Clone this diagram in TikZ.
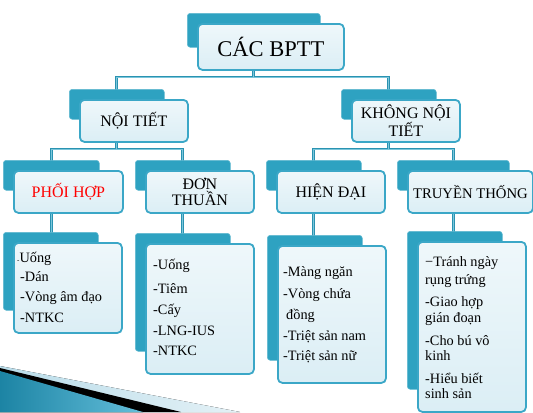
\documentclass[tikz,border=0pt]{standalone}
\usepackage{fontspec}
\setmainfont{Liberation Serif}
\newfontfamily\viserif{Liberation Serif}
\definecolor{tealback}{HTML}{2EA2C1}
\definecolor{tealedge}{HTML}{3BA7C7}
\definecolor{tealconn}{HTML}{2A93B1}
\definecolor{conninner}{HTML}{7CC6DB}
\definecolor{fillb}{HTML}{DBEEF5}
\definecolor{wedgeL}{RGB}{185,220,233}
\definecolor{wedgeR}{RGB}{228,241,246}
\definecolor{blueL}{RGB}{28,132,164}
\definecolor{blueR}{RGB}{100,190,218}
\pgfdeclarelayer{bg}
\pgfsetlayers{bg,main}
\newcommand\mkbox[7]{%
  \pgfmathsetmacro\myBW{#4-#2}%
  \pgfmathsetmacro\myBH{#5-#3}%
  \pgfmathsetmacro\myKW{#4-#2-13}%
  \pgfmathsetmacro\myKH{#5-#3-12}%
  \node[backbox,minimum width=\myKW bp,minimum height=\myKH bp] (#1b) at (#2-10,#3-10) {};
  \node[frontbox,minimum width=\myBW bp,minimum height=\myBH bp,#7] (#1) at (#2,#3) {#6};
}
\begin{document}
\begin{tikzpicture}[x=1bp,y=-1bp,
  backbox/.style={draw=tealback!75!white,fill=tealback,rounded corners=3bp,line width=0.6bp,inner sep=0pt,anchor=north west},
  frontbox/.style={draw=tealedge,line width=1.8bp,rounded corners=4.5bp,top color=fillb!45!white,bottom color=fillb,inner sep=0pt,anchor=north west,align=center},
  connl/.style={draw=tealconn,line width=1.1bp,double=conninner,double distance=0.7bp},
  lvone/.style={font=\viserif\fontsize{22.5bp}{24bp}\selectfont},
  lvtwo/.style={font=\viserif\fontsize{16bp}{16.5bp}\selectfont},
  item/.style={anchor=base west,inner sep=0pt,font=\viserif\fontsize{14.3bp}{16bp}\selectfont}]
\useasboundingbox (0,0) rectangle (533,412);
% decoration bottom left
\begin{pgfonlayer}{bg}
\fill[left color=wedgeL, right color=wedgeR] (0,366) -- (240,412) -- (0,412) -- cycle;
\fill[black] (0,368) -- (181,412) -- (0,412) -- cycle;
\fill[left color=blueL, right color=blueR] (0,371) -- (143,412) -- (0,412) -- cycle;
\end{pgfonlayer}
% boxes
\mkbox{top}{197}{23}{343}{69}{CÁC BPTT}{lvone}
\mkbox{noi}{79}{99}{187}{141}{NỘI TIẾT}{lvtwo}
\mkbox{khong}{351}{99}{459}{141}{KHÔNG NỘI\\TIẾT}{lvtwo}
\mkbox{phoi}{13}{170}{122}{212}{PHỐI HỢP}{lvtwo,text=red}
\mkbox{don}{145}{170}{253}{212}{ĐƠN\\THUẦN}{lvtwo}
\mkbox{hien}{276}{170}{384}{212}{HIỆN ĐẠI}{lvtwo}
\mkbox{truyen}{407}{170}{532}{212}{TRUYỀN THỐNG}{font=\viserif\fontsize{14.7bp}{16bp}\selectfont}
\mkbox{bone}{13}{242}{121}{332}{}{}
\mkbox{btwo}{145}{243}{253}{373}{}{}
\mkbox{bthree}{277}{245}{385}{382}{}{}
\mkbox{bfour}{417}{241}{525}{411}{}{}
% connectors
\coordinate (mA) at (0,77);
\coordinate (mB) at (0,149);
\begin{pgfonlayer}{bg}
\draw[connl] (topb.center) -- (topb.center |- mA) -| (noib.center);
\draw[connl] (topb.center |- mA) -| (khongb.center);
\draw[connl] (noib.center) -- (noib.center |- mB) -| (phoib.center);
\draw[connl] (noib.center |- mB) -| (donb.center);
\draw[connl] (khongb.center) -- (khongb.center |- mB) -| (hienb.center);
\draw[connl] (khongb.center |- mB) -| (truyenb.center);
\draw[connl] (phoib.center) -- (phoib.center |- boneb.center);
\draw[connl] (donb.center) -- (donb.center |- btwob.center);
\draw[connl] (hienb.center) -- (hienb.center |- bthreeb.center);
\draw[connl] (truyenb.center) -- (truyenb.center |- bfourb.center);
\end{pgfonlayer}
% items box 1
\node[item] (a1) at (17,262) {{\fontsize{7bp}{8bp}\selectfont -}Uống};
\node[item] (a2) at (20,281) {-Dán};
\node[item] (a3) at (20,301) {-Vòng âm đạo};
\node[item] (a4) at (20,322) {-NTKC};
% box 2
\node[item] (c1) at (153,269) {-Uống};
\node[item] (c2) at (153,293) {-Tiêm};
\node[item] (c3) at (153,314) {-Cấy};
\node[item] (c4) at (153,335) {-LNG-IUS};
\node[item] (c5) at (153,355) {-NTKC};
% box 3
\node[item] (d1) at (283,276) {-Màng ngăn};
\node[item] (d2) at (283,298) {-Vòng chứa};
\node[item] (d3) at (286,319) {đồng};
\node[item] (d4) at (283,340) {-Triệt sản nam};
\node[item] (d5) at (283,360) {-Triệt sản nữ};
% box 4
\node[item] (e1) at (425,266) {−Tránh ngày};
\node[item] (e2) at (425,284) {rụng trứng};
\node[item] (e3) at (425,306) {-Giao hợp};
\node[item] (e4) at (425,322) {gián đoạn};
\node[item] (e5) at (425,345) {-Cho bú vô};
\node[item] (e6) at (425,360) {kinh};
\node[item] (e7) at (425,383) {-Hiểu biết};
\node[item] (e8) at (425,398) {sinh sản};
\end{tikzpicture}
\end{document}
